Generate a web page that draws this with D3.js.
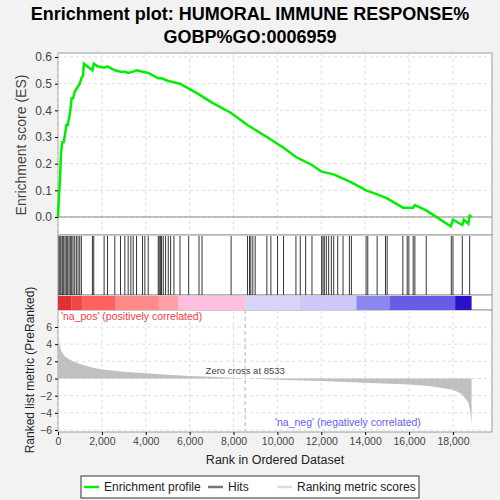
<!DOCTYPE html>
<html><head><meta charset="utf-8">
<script src="https://cdn.jsdelivr.net/npm/d3@7"></script>
<style>body{margin:0;background:#f2f2f2}text{font-family:"Liberation Sans",Arial,sans-serif}</style>
</head><body>
<script>
// data
var hits = [46,91,137,198,259,320,381,442,503,563,624,685,761,838,914,990,1066,1569,1630,2102,2254,2589,2848,3046,3198,3320,3427,3579,3853,3960,4112,4569,4615,4676,4721,4798,4904,5026,5132,5285,5559,5955,6427,6564,7889,8635,8727,8788,8879,8986,9519,9702,10006,10280,10844,11042,11286,11575,12017,12077,12138,12230,12336,12458,12565,12748,12991,13281,13372,14042,14118,14545,14925,15001,15717,15915,15991,16189,16265,16783,17925,18001,18427,18762];
var esRank = [0,46,91,137,198,259,320,381,442,503,563,624,685,761,838,914,990,1066,1140,1180,1569,1630,1800,2102,2254,2589,2848,3046,3198,3427,3579,3853,4112,4569,4721,5026,5559,6427,7000,7889,8635,9519,10280,10844,11575,12017,12565,13372,14042,14545,15001,15717,16189,16265,16783,17900,18001,18427,18500,18700,18762,18850];
var esVal = [0,0.08,0.14,0.24,0.28,0.28,0.31,0.345,0.345,0.37,0.40,0.445,0.445,0.47,0.48,0.49,0.50,0.52,0.53,0.575,0.55,0.575,0.565,0.56,0.565,0.55,0.545,0.545,0.54,0.545,0.55,0.545,0.54,0.52,0.52,0.51,0.50,0.46,0.43,0.39,0.345,0.30,0.26,0.225,0.195,0.17,0.16,0.13,0.10,0.085,0.07,0.035,0.035,0.045,0.025,-0.035,-0.01,-0.03,-0.01,-0.025,0.005,0.0];
var mRank = [0,60,150,300,600,1000,1500,2000,3000,4000,5000,6000,7000,8533,10000,12000,14000,16000,17000,18000,18400,18700,18800,18850];
var mVal = [5,4,3.2,2.6,2.1,1.7,1.3,1.05,0.8,0.6,0.45,0.3,0.2,0,-0.15,-0.3,-0.5,-0.7,-0.9,-1.3,-1.8,-2.8,-4,-5.4];
var bandStart = [0,600,1100,2600,4600,5500,8533,11000,13600,15100,18100];
var bandEnd = [600,1100,2600,4600,5500,8533,11000,13600,15100,18100,18850];
var bandColor = ['#e03030','#f04848','#ff6060','#ff8888','#ffa0a8','#ffc0e0','#d8d4f8','#ccc8f8','#8888f0','#6a5ae8','#2a10c8'];
var esTicks = [0,0.1,0.2,0.3,0.4,0.5,0.6];
var mTicks = [-6,-4,-2,0,2,4,6];
var rankTicks = [0,2000,4000,6000,8000,10000,12000,14000,16000,18000];

var svg = d3.select('body').append('svg').attr('width',500).attr('height',500);
var L=58,R=492;
var x = d3.scaleLinear().domain([0,19780]).range([L,R]);
var yEs = d3.scaleLinear().domain([0,0.6]).range([217,57]);
var yM = d3.scaleLinear().domain([-6,6]).range([430,327]);

svg.append('text').attr('x',250).attr('y',20).attr('text-anchor','middle').attr('font-size',18).attr('font-weight','bold').text('Enrichment plot: HUMORAL IMMUNE RESPONSE%');
svg.append('text').attr('x',250).attr('y',43).attr('text-anchor','middle').attr('font-size',18).attr('font-weight','bold').text('GOBP%GO:0006959');

// panels
[[53,235],[235,295],[295,310],[310,432]].forEach(function(p){
  svg.append('rect').attr('x',L).attr('y',p[0]).attr('width',R-L).attr('height',p[1]-p[0]).attr('fill','white').attr('stroke','#999');
});

// grids
var g1 = svg.append('g');
rankTicks.forEach(function(t){
  g1.append('line').attr('x1',x(t)).attr('x2',x(t)).attr('y1',53).attr('y2',235).attr('stroke','#ddd').attr('stroke-dasharray','3,3');
  g1.append('line').attr('x1',x(t)).attr('x2',x(t)).attr('y1',310).attr('y2',432).attr('stroke','#ddd').attr('stroke-dasharray','3,3');
});
esTicks.forEach(function(t){
  g1.append('line').attr('x1',L).attr('x2',R).attr('y1',yEs(t)).attr('y2',yEs(t)).attr('stroke','#ddd').attr('stroke-dasharray','3,3');
});
mTicks.forEach(function(t){
  g1.append('line').attr('x1',L).attr('x2',R).attr('y1',yM(t)).attr('y2',yM(t)).attr('stroke','#ddd').attr('stroke-dasharray','3,3');
});
svg.append('line').attr('x1',L).attr('x2',R).attr('y1',yEs(0)).attr('y2',yEs(0)).attr('stroke','#888');

// ES curve
var esData = esRank.map(function(r,i){return [r,esVal[i]];});
svg.append('path').datum(esData).attr('fill','none').attr('stroke','#00ee00').attr('stroke-width',2.5)
  .attr('d',d3.line().x(function(d){return x(d[0]);}).y(function(d){return yEs(d[1]);}));

// hits
svg.selectAll('line.hit').data(hits).enter().append('line').attr('class','hit')
  .attr('x1',function(d){return x(d);}).attr('x2',function(d){return x(d);})
  .attr('y1',236).attr('y2',295).attr('stroke','black').attr('stroke-width',0.8);

// colour band
svg.selectAll('rect.band').data(bandStart).enter().append('rect').attr('class','band')
  .attr('x',function(d){return x(d);}).attr('width',function(d,i){return x(bandEnd[i])-x(d);})
  .attr('y',296).attr('height',14).attr('fill',function(d,i){return bandColor[i];});

// metric area
var mData = mRank.map(function(r,i){return [r,mVal[i]];});
svg.append('path').datum(mData).attr('fill','#c0c0c0')
  .attr('d',d3.area().x(function(d){return x(d[0]);}).y0(yM(0)).y1(function(d){return yM(d[1]);}));
svg.append('line').attr('x1',x(8533)).attr('x2',x(8533)).attr('y1',310).attr('y2',432).attr('stroke','#ccc').attr('stroke-dasharray','4,3').attr('stroke-width',1.5);
svg.append('text').attr('x',x(8533)).attr('y',374).attr('text-anchor','middle').attr('font-size',9.5).attr('fill','#444').text('Zero cross at 8533');
svg.append('text').attr('x',61).attr('y',320).attr('font-size',10.5).attr('fill','#f04040').text("'na_pos' (positively correlated)");
svg.append('text').attr('x',275).attr('y',426).attr('font-size',10.5).attr('fill','#6060f0').text("'na_neg' (negatively correlated)");

// axes
var fmt = d3.format(',');
svg.append('g').attr('transform','translate('+L+',0)').call(d3.axisLeft(yEs).tickValues(esTicks).tickFormat(d3.format('.1f')).tickSize(3))
  .call(function(g){g.select('.domain').remove();g.selectAll('text').attr('font-size',12).attr('fill','#444');});
svg.append('g').attr('transform','translate('+L+',0)').call(d3.axisLeft(yM).tickValues(mTicks).tickSize(3))
  .call(function(g){g.select('.domain').remove();g.selectAll('text').attr('font-size',10.5).attr('fill','#444');});
svg.append('g').attr('transform','translate(0,432)').call(d3.axisBottom(x).tickValues(rankTicks).tickFormat(fmt).tickSize(3))
  .call(function(g){g.select('.domain').remove();g.selectAll('text').attr('font-size',10.5).attr('fill','#444');});

svg.append('text').attr('transform','translate(26,145) rotate(-90)').attr('text-anchor','middle').attr('font-size',14).attr('fill','#444').text('Enrichment score (ES)');
svg.append('text').attr('transform','translate(34,370) rotate(-90)').attr('text-anchor','middle').attr('font-size',12).attr('fill','#222').text('Ranked list metric (PreRanked)');
svg.append('text').attr('x',275).attr('y',464).attr('text-anchor','middle').attr('font-size',12.5).attr('fill','#222').text('Rank in Ordered Dataset');

// legend
var lg = svg.append('g');
lg.append('rect').attr('x',81).attr('y',476).attr('width',338).attr('height',22).attr('fill','white').attr('stroke','#333');
var items = [['Enrichment profile','#00ee00',84],['Hits','#777',208],['Ranking metric scores','#ddd',277]];
items.forEach(function(it){
  lg.append('line').attr('x1',it[2]).attr('x2',it[2]+15).attr('y1',487).attr('y2',487).attr('stroke',it[1]).attr('stroke-width',2.5);
  lg.append('text').attr('x',it[2]+20).attr('y',491).attr('font-size',12).attr('fill','#222').text(it[0]);
});
</script>
</body></html>
